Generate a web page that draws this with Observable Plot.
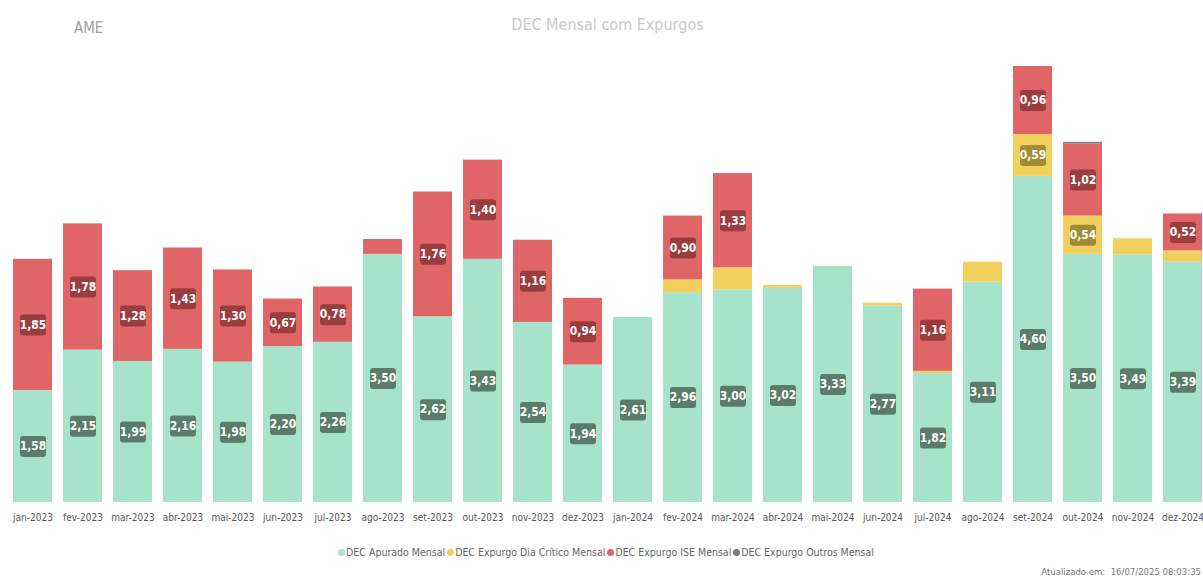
<!DOCTYPE html>
<html><head><meta charset="utf-8">
<script src="https://cdn.jsdelivr.net/npm/d3@7"></script>
<script src="https://cdn.jsdelivr.net/npm/@observablehq/plot@0.6"></script>
<style>
body{margin:0;background:#fff;width:1203px;height:578px;overflow:hidden;position:relative;font-family:"DejaVu Sans Condensed",sans-serif;}
#hdr{position:relative;height:50px;}
#ame{position:absolute;left:74px;top:19px;font-size:15px;color:#a0a0a0;}
#title{position:absolute;left:0;width:1215px;text-align:center;top:15px;font-size:16px;color:#c8c8c8;}
#legend{position:absolute;top:546px;left:0;width:1212px;text-align:center;font-size:10.5px;color:#666;white-space:nowrap;}
#legend span.it{margin:0 1px;}
#legend i{display:inline-block;width:7px;height:7px;border-radius:50%;margin-right:1px;vertical-align:0px;}
#foot{position:absolute;right:2px;top:566px;font-size:9.5px;color:#777;white-space:nowrap;}
</style></head>
<body>
<div id="hdr"><div id="ame">AME</div><div id="title">DEC Mensal com Expurgos</div></div>
<div id="chart"></div>
<div id="legend"></div>
<div id="foot">Atualizado em:&nbsp; 16/07/2025 08:03:35</div>
<script>
const months = ["jan-2023","fev-2023","mar-2023","abr-2023","mai-2023","jun-2023","jul-2023","ago-2023","set-2023","out-2023","nov-2023","dez-2023","jan-2024","fev-2024","mar-2024","abr-2024","mai-2024","jun-2024","jul-2024","ago-2024","set-2024","out-2024","nov-2024","dez-2024"];
const series = ["DEC Apurado Mensal","DEC Expurgo Dia Crítico Mensal","DEC Expurgo ISE Mensal","DEC Expurgo Outros Mensal"];
const colors = ["#a6e3ca","#f2d05e","#df6566","#7b7b7b"];
const labelColors = ["#5b7b6b","#a08b37","#9b3c3e","#555555"];
const apurado    = [1.58,2.15,1.99,2.16,1.98,2.20,2.26,3.50,2.62,3.43,2.54,1.94, 2.61,2.96,3.00,3.02,3.33,2.77,1.82,3.11,4.60,3.50,3.49,3.39];
const diaCritico = [0,0,0,0,0,0,0,0,0,0,0,0, 0,0.18,0.31,0.04,0,0.04,0.03,0.28,0.59,0.54,0.23,0.16];
const ise        = [1.85,1.78,1.28,1.43,1.30,0.67,0.78,0.21,1.76,1.40,1.16,0.94, 0,0.90,1.33,0,0,0,1.16,0,0.96,1.02,0,0.52];
const outros     = [0,0,0,0,0,0,0,0,0,0,0,0, 0,0,0,0,0,0,0,0,0,0.02,0,0];

const vals = [apurado, diaCritico, ise, outros];
const rows = [];
months.forEach((m, i) => series.forEach((s, j) => rows.push({month: m, series: s, value: vals[j][i]})));
const fmt = v => v.toFixed(2).replace(".", ",");
const boxSymbol = {draw(ctx) {
  const w = 13, h = 10.5, r = 3;
  ctx.moveTo(-w + r, -h); ctx.lineTo(w - r, -h); ctx.arcTo(w, -h, w, -h + r, r);
  ctx.lineTo(w, h - r); ctx.arcTo(w, h, w - r, h, r);
  ctx.lineTo(-w + r, h); ctx.arcTo(-w, h, -w, h - r, r);
  ctx.lineTo(-w, -h + r); ctx.arcTo(-w, -h, -w + r, -h, r); ctx.closePath();
}};
const big = d => d.value >= 0.4;
const st = {x: "month", y: "value", z: "series", order: series};
const ff = '"DejaVu Sans Condensed",sans-serif';

const chart = Plot.plot({
  width: 1203, height: 490, marginTop: 16, marginBottom: 38, marginLeft: 12, marginRight: 1,
  style: {fontFamily: ff, fontSize: "10px", color: "#555", background: "transparent", overflow: "visible"},
  x: {domain: months, paddingInner: 0.22, paddingOuter: 0, label: null, tickSize: 0, tickPadding: 11},
  y: {axis: null, domain: [0, d3.max(months, (m, i) => apurado[i] + diaCritico[i] + ise[i] + outros[i])]},
  color: {domain: series, range: colors},
  marks: [
    Plot.barY(rows, Plot.stackY({...st, fill: "series"})),
    Plot.dot(rows, Plot.filter(big, Plot.stackY({...st, symbol: boxSymbol, r: 5, fill: d => labelColors[series.indexOf(d.series)], stroke: null}))),
    Plot.text(rows, Plot.filter(big, Plot.stackY({...st, text: d => fmt(d.value), fill: "white", fontSize: 12, fontWeight: "bold", fontFamily: ff})))
  ]
});
document.getElementById("chart").append(chart);

const lg = document.getElementById("legend");
series.forEach((s, j) => {
  const sp = document.createElement("span"); sp.className = "it";
  const dot = document.createElement("i"); dot.style.background = colors[j];
  sp.append(dot, document.createTextNode(s));
  lg.append(sp);
});
</script>
</body></html>
